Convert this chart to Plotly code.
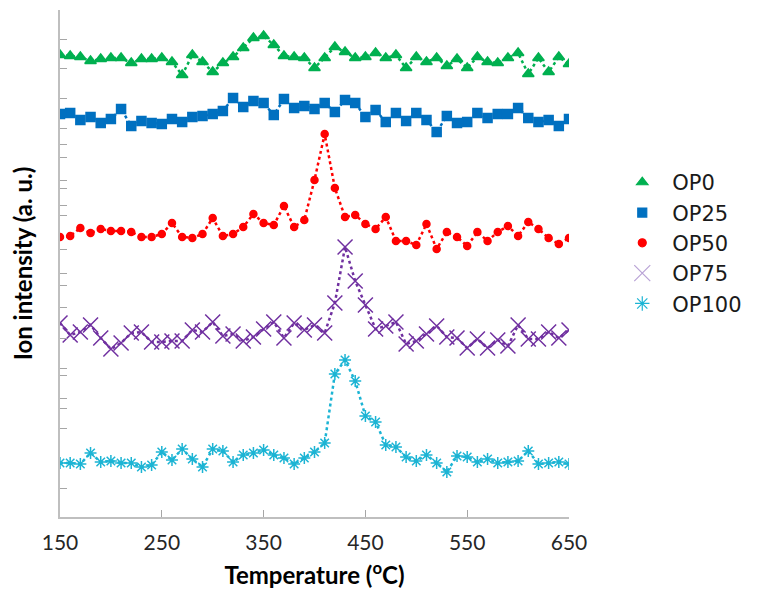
import plotly.graph_objects as go

temperature = list(range(150, 651, 10))

op0 = [462, 461, 460, 456, 458, 459, 459, 454, 458, 458, 459, 455, 442, 462, 455, 445, 454, 460, 469, 479,
       481, 472, 461, 460, 459, 449, 459, 470, 465, 459, 460, 464, 459, 462, 449, 460, 455, 459, 451, 458,
       449, 460, 455, 454, 459, 464, 443, 459, 445, 460, 453]
op25 = [403, 404, 397, 400, 394, 398, 408, 391, 396, 394, 393, 398, 395, 400, 401, 403, 406, 419, 410, 416,
        414, 402, 418, 409, 411, 408, 414, 405, 417, 414, 400, 407, 395, 404, 396, 404, 397, 385, 401, 394,
        395, 404, 399, 403, 403, 409, 399, 395, 397, 391, 398]
op50 = [280, 281, 289, 284, 288, 286, 286, 285, 280, 280, 283, 294, 280, 279, 283, 299, 281, 283, 290, 303,
        294, 292, 311, 290, 297, 337, 383, 329, 300, 302, 293, 288, 300, 276, 276, 272, 293, 268, 285, 280,
        271, 285, 276, 285, 291, 281, 295, 288, 279, 273, 279]
op75 = [194, 182, 185, 192, 179, 168, 174, 184, 185, 175, 175, 176, 176, 187, 185, 195, 181, 183, 176, 180,
        188, 195, 179, 194, 187, 192, 184, 214, 270, 236, 212, 188, 191, 195, 173, 176, 183, 191, 180, 179,
        169, 178, 169, 177, 171, 192, 178, 178, 185, 179, 187]
op100 = [54, 54, 53, 64, 55, 56, 54, 54, 50, 52, 65, 57, 68, 58, 50, 68, 66, 55, 62, 64,
         67, 62, 59, 53, 59, 65, 74, 143, 157, 136, 101, 95, 72, 70, 60, 56, 62, 54, 45, 61,
         60, 55, 58, 54, 55, 56, 66, 53, 54, 55, 53]

series_names = ["OP0", "OP25", "OP50", "OP75", "OP100"]
series_values = [op0, op25, op50, op75, op100]
colors = ["#00b050", "#0070c0", "#ff0000", "#7030a0", "#1cb4d4"]
symbols = ["triangle-up", "square", "circle", "x-thin-open", "asterisk-open"]
sizes = [10, 9, 7, 15, 10]
legend_sizes = [10, 9, 8, 18, 12]
legend_colors = ["#00b050", "#0070c0", "#ff0000", "#b9a3d6", "#1cb4d4"]

x_ticks = [150, 250, 350, 450, 550, 650]
y_ticks = [507, 478, 449, 419, 389, 373, 360, 337, 329, 312, 302, 268, 244, 232, 210, 179, 149, 142,
           119, 109, 89, 29]

fig = go.Figure()
for name, vals, c, s, sz in zip(series_names, series_values, colors, symbols, sizes):
    fig.add_trace(go.Scatter(
        x=temperature, y=vals, mode="lines+markers", name=name, showlegend=False,
        line=dict(color=c, width=2.5, dash="dot"),
        marker=dict(symbol=s, size=sz, color=c, line=dict(color=c, width=1.5)),
    ))
for name, c, s, sz in zip(series_names, legend_colors, symbols, legend_sizes):
    fig.add_trace(go.Scatter(
        x=[None], y=[None], mode="markers", name=name,
        marker=dict(symbol=s, size=sz, color=c, line=dict(color=c, width=1.2)),
    ))

axis_color = "#bfbfbf"
fig.update_layout(
    width=778, height=598,
    margin=dict(l=52, r=217, t=2, b=89, autoexpand=False),
    plot_bgcolor="white", paper_bgcolor="white",
    font=dict(family="Lato, Open Sans, sans-serif", color="#404040"),
    legend=dict(x=1.085, y=0.70, yanchor="top", xanchor="left",
                font=dict(family="'DejaVu Sans', Verdana, sans-serif", size=21, color="#1a1a1a"),
                itemwidth=50, tracegroupgap=0, bgcolor="rgba(0,0,0,0)"),
    xaxis=dict(range=[150, 650], tickvals=x_ticks, ticks="inside", ticklen=7, tickwidth=1,
               tickcolor="#a6a6a6", showline=True, linecolor=axis_color, linewidth=2,
               showgrid=False, zeroline=False, automargin=False, ticklabelstandoff=6,
               tickfont=dict(family="Lato, sans-serif", size=21, color="#262626"),
               title=dict(text="<b>Temperature (<sup>o</sup>C)</b>", standoff=14,
                          font=dict(family="Lato, sans-serif", size=24, color="#000000"))),
    yaxis=dict(range=[0, 507], tickvals=y_ticks, showticklabels=False, ticks="inside",
               ticklen=7, tickwidth=1, tickcolor="#a6a6a6", showline=True, linecolor=axis_color,
               linewidth=2, showgrid=False, zeroline=False, automargin=False,
               title=dict(text="<b>Ion intensity (a. u.)</b>", standoff=28,
                          font=dict(family="Lato, sans-serif", size=24, color="#000000"))),
)

fig.write_html("out.html")
